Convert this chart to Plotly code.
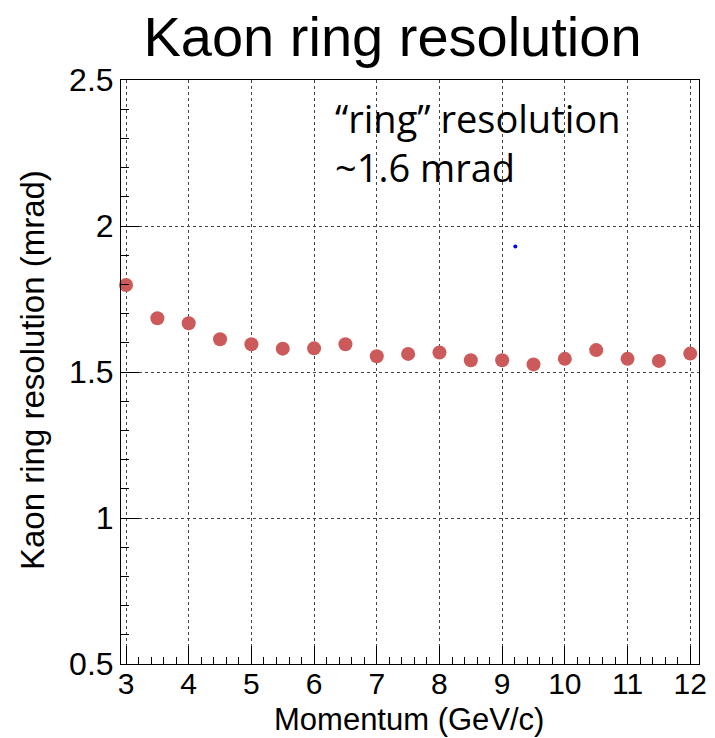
import plotly.graph_objects as go

# Kaon ring resolution vs. momentum
momentum = [3, 3.5, 4, 4.5, 5, 5.5, 6, 6.5, 7, 7.5, 8, 8.5, 9, 9.5, 10, 10.5, 11, 11.5, 12]
resolution = [1.798, 1.684, 1.667, 1.612, 1.595, 1.580, 1.581, 1.595, 1.554, 1.562,
              1.567, 1.540, 1.540, 1.526, 1.545, 1.575, 1.545, 1.538, 1.563]

# single stray point
stray_x = [9.21]
stray_y = [1.93]

x_ticks = [3, 4, 5, 6, 7, 8, 9, 10, 11, 12]
y_ticks = [0.5, 1, 1.5, 2, 2.5]
y_tick_text = ["0.5", "1", "1.5", "2", "2.5"]

W, H = 715, 738
L, R, T, B = 121, 16, 80, 74
PW, PH = W - L - R, H - T - B

fig = go.Figure()
fig.add_trace(go.Scatter(
    x=momentum, y=resolution, mode="markers",
    marker=dict(size=14, color="#cd5a5a", line=dict(width=0)),
    showlegend=False, cliponaxis=False,
))
fig.add_trace(go.Scatter(
    x=stray_x, y=stray_y, mode="markers",
    marker=dict(size=4, color="#0000ff", line=dict(width=0)),
    showlegend=False,
))

axis_font = dict(family="Liberation Sans, Arial, sans-serif", size=32, color="black")
xtick_font = dict(family="Liberation Sans, Arial, sans-serif", size=30, color="black")
title_font = dict(family="Liberation Sans, Arial, sans-serif", size=33, color="black")

fig.update_xaxes(
    range=[2.92, 12.14], tickvals=x_ticks, ticks="inside", ticklen=18,
    tickcolor="black", tickwidth=1, tickfont=xtick_font, automargin=False,
    ticklabelstandoff=-7,
    showline=True, linecolor="black", linewidth=1, mirror=True,
    showgrid=True, gridcolor="#444444", griddash="dot", gridwidth=1,
    zeroline=False,
    minor=dict(dtick=0.2, tick0=3, ticks="inside", ticklen=7, tickcolor="black", showgrid=False),
)
fig.update_yaxes(
    range=[0.5, 2.5], tickvals=y_ticks, ticktext=y_tick_text, ticks="inside", ticklen=18,
    tickcolor="black", tickwidth=1, tickfont=axis_font, automargin=False,
    showline=True, linecolor="black", linewidth=1, mirror=True,
    showgrid=True, gridcolor="#444444", griddash="dot", gridwidth=1,
    zeroline=False,
    minor=dict(dtick=0.1, tick0=0.5, ticks="inside", ticklen=8, tickcolor="black", showgrid=False),
)

# axis titles
fig.add_annotation(
    xref="paper", yref="paper", x=(408.5 - L) / PW, y=(H - B - 738) / PH,
    xanchor="center", yanchor="bottom", showarrow=False, borderpad=0,
    text="Momentum (GeV/c)", font=dict(family="Liberation Sans, Arial, sans-serif", size=31, color="black"),
)
fig.add_annotation(
    xref="paper", yref="paper", x=(32 - L) / PW, y=(H - B - 370) / PH,
    xanchor="center", yanchor="middle", showarrow=False, textangle=-90,
    text="Kaon ring resolution (mrad)", font=title_font,
)

fig.add_annotation(
    xref="paper", yref="paper", x=(333 - L) / PW, y=(H - B - 90) / PH,
    xanchor="left", yanchor="top", align="left", showarrow=False,
    text="\u201cring\u201d resolution<br>~1.6 mrad",
    font=dict(family="Open Sans, sans-serif", size=38, color="black"),
)

fig.update_layout(
    width=W, height=H,
    margin=dict(l=L, r=R, t=T, b=B),
    paper_bgcolor="white", plot_bgcolor="white",
    title=dict(text="Kaon ring resolution", xref="container", yref="container",
               x=392.5 / W, xanchor="center", y=1 - 36 / H, yanchor="middle",
               font=dict(family="Liberation Sans, Arial, sans-serif", size=56, color="black")),
)

fig.write_html("out.html")
